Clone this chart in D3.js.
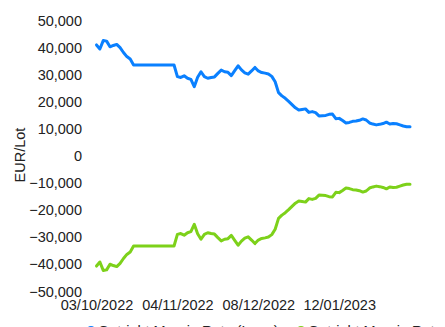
<!DOCTYPE html>
<html>
<head>
<meta charset="utf-8">
<script src="https://cdn.jsdelivr.net/npm/d3@7"></script>
<style>
  html, body { margin: 0; padding: 0; background: #fff; }
  svg { display: block; font-family: "Liberation Sans", Arial, Helvetica, sans-serif; }
  .tick text { fill: #222; font-size: 14.5px; }
</style>
</head>
<body>
<svg id="chart" width="445" height="327"></svg>
<script>
// Trading days (exchange calendar, 26/12 closed)
const dates = [
  "03/10/2022","04/10/2022","05/10/2022","06/10/2022","07/10/2022",
  "10/10/2022","11/10/2022","12/10/2022","13/10/2022","14/10/2022",
  "17/10/2022","18/10/2022","19/10/2022","20/10/2022","21/10/2022",
  "24/10/2022","25/10/2022","26/10/2022","27/10/2022","28/10/2022",
  "31/10/2022","01/11/2022","02/11/2022","03/11/2022","04/11/2022",
  "07/11/2022","08/11/2022","09/11/2022","10/11/2022","11/11/2022",
  "14/11/2022","15/11/2022","16/11/2022","17/11/2022","18/11/2022",
  "21/11/2022","22/11/2022","23/11/2022","24/11/2022","25/11/2022",
  "28/11/2022","29/11/2022","30/11/2022","01/12/2022","02/12/2022",
  "05/12/2022","06/12/2022","07/12/2022","08/12/2022","09/12/2022",
  "12/12/2022","13/12/2022","14/12/2022","15/12/2022","16/12/2022",
  "19/12/2022","20/12/2022","21/12/2022","22/12/2022","23/12/2022",
  "27/12/2022","28/12/2022","29/12/2022","30/12/2022",
  "02/01/2023","03/01/2023","04/01/2023","05/01/2023","06/01/2023",
  "09/01/2023","10/01/2023","11/01/2023","12/01/2023","13/01/2023",
  "16/01/2023","17/01/2023","18/01/2023","19/01/2023","20/01/2023",
  "23/01/2023","24/01/2023","25/01/2023","26/01/2023","27/01/2023",
  "30/01/2023","31/01/2023","01/02/2023","02/02/2023","03/02/2023",
  "06/02/2023","07/02/2023","08/02/2023","09/02/2023","10/02/2023"
];

// Outright margin rate, long side (EUR/Lot)
const marginLong = [
  40800, 39300, 42400, 42200, 40100, 40600, 41000, 39800, 38000, 36500,
  35600, 33400, 33400, 33400, 33400, 33400, 33400, 33400, 33400, 33400,
  33400, 33400, 33400, 33400, 29100, 28800, 29400, 28500, 28100, 25400,
  28900, 30900, 29100, 28500, 28800, 29000, 30300, 31500, 30900, 30700,
  29500, 31300, 33100, 31600, 30500, 30000, 31200, 32500, 31200, 30600,
  30400, 30100, 29200, 27200, 23200, 22000, 21100, 20000, 18800, 17600,
  16800, 17000, 17200, 15900, 16200, 15800, 14600, 14700, 14800, 15200,
  15300, 13600, 13700, 12900, 12000, 12200, 12600, 12700, 13000, 13500,
  13100, 12000, 11600, 11300, 11500, 11800, 12300, 11600, 11800, 11700,
  11300, 10900, 10600, 10600
];

// Outright margin rate, short side (EUR/Lot)
const marginShort = [
  -40800, -39300, -42400, -42200, -40100, -40600, -41000, -39800, -38000, -36500,
  -35600, -33400, -33400, -33400, -33400, -33400, -33400, -33400, -33400, -33400,
  -33400, -33400, -33400, -33400, -29100, -28800, -29400, -28500, -28100, -25400,
  -28900, -30900, -29100, -28500, -28800, -29000, -30300, -31500, -30900, -30700,
  -29500, -31300, -33100, -31600, -30500, -30000, -31200, -32500, -31200, -30600,
  -30400, -30100, -29200, -27200, -23200, -22000, -21100, -20000, -18800, -17600,
  -16800, -17000, -17200, -15900, -16200, -15800, -14600, -14700, -14800, -15200,
  -15300, -13600, -13700, -12900, -12000, -12200, -12600, -12700, -13000, -13500,
  -13100, -12000, -11600, -11300, -11500, -11800, -12300, -11600, -11800, -11700,
  -11300, -10900, -10600, -10600
];

const yTicks = [50000, 40000, 30000, 20000, 10000, 0, -10000, -20000, -30000, -40000, -50000];
const xTickIndex = [0, 24, 48, 72];

const seriesNames = ["Outright Margin Rate (Long)", "Outright Margin Rate (Short)"];
const seriesColors = ["#0a80ff", "#7dd11a"];

const svg = d3.select("#chart");

const x = d3.scaleLinear().domain([0, dates.length - 1]).range([96.5, 410]);
const y = d3.scaleLinear().domain([-50000, 50000]).range([291, 20]);

// Y axis
const yAxis = svg.append("g")
  .attr("transform", "translate(88,0)")
  .call(d3.axisLeft(y).tickValues(yTicks).tickFormat(d3.format(",")).tickSize(0).tickPadding(6));
yAxis.select(".domain").remove();
yAxis.selectAll("text").attr("dy", "0.35em");

// X axis
const xAxis = svg.append("g")
  .attr("transform", "translate(0,294)")
  .call(d3.axisBottom(x).tickValues(xTickIndex).tickFormat(i => dates[i]).tickSize(0).tickPadding(6));
xAxis.select(".domain").remove();

// Y axis title
svg.append("text")
  .attr("transform", "translate(25,155) rotate(-90)")
  .attr("text-anchor", "middle")
  .attr("fill", "#222")
  .style("font-size", "14.5px")
  .text("EUR/Lot");

// Lines
const line = d3.line()
  .x((d, i) => x(i))
  .y(d => y(d))
  .curve(d3.curveLinear);

[marginLong, marginShort].forEach((vals, k) => {
  svg.append("path")
    .datum(vals)
    .attr("fill", "none")
    .attr("stroke", seriesColors[k])
    .attr("stroke-width", 3)
    .attr("stroke-linejoin", "round")
    .attr("stroke-linecap", "round")
    .attr("d", line);
});

// Legend along the bottom edge
const legendX = [60, 270];
seriesNames.forEach((name, k) => {
  const g = svg.append("g").attr("transform", `translate(${legendX[k]},330)`);
  g.append("line")
    .attr("x1", 0).attr("x2", 34)
    .attr("stroke", seriesColors[k])
    .attr("stroke-width", 2);
  g.append("circle")
    .attr("cx", 31).attr("r", 4)
    .attr("fill", seriesColors[k]);
  g.append("text")
    .attr("x", 38)
    .attr("y", 5.5)
    .attr("fill", "#222")
    .style("font-size", "14.5px")
    .text(name);
});
</script>
</body>
</html>
